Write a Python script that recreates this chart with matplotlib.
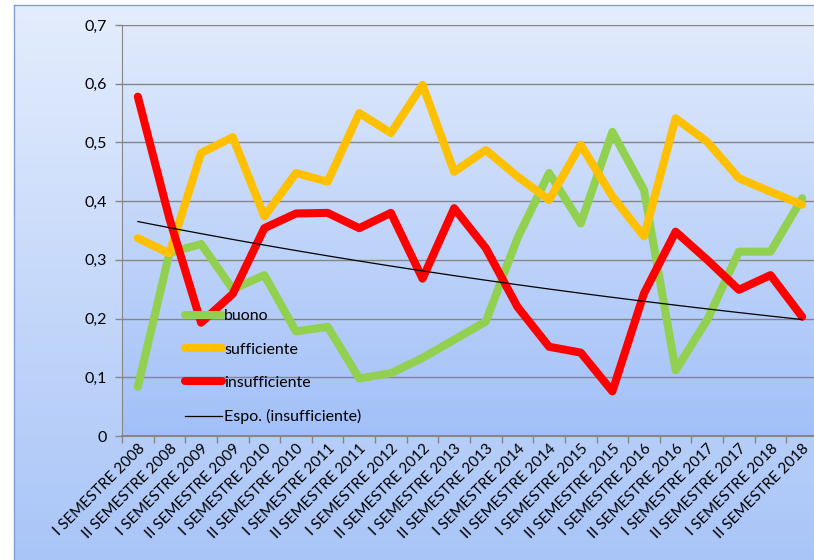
import numpy as np
from matplotlib import pyplot as plt
from matplotlib.colors import LinearSegmentedColormap

# semesters
categories = ['I SEMESTRE 2008', 'II SEMESTRE 2008', 'I SEMESTRE 2009', 'II SEMESTRE 2009',
              'I SEMESTRE 2010', 'II SEMESTRE 2010', 'I SEMESTRE 2011', 'II SEMESTRE 2011',
              'I SEMESTRE 2012', 'II SEMESTRE 2012', 'I SEMESTRE 2013', 'II SEMESTRE 2013',
              'I SEMESTRE 2014', 'II SEMESTRE 2014', 'I SEMESTRE 2015', 'II SEMESTRE 2015',
              'I SEMESTRE 2016', 'II SEMESTRE 2016', 'I SEMESTRE 2017', 'II SEMESTRE 2017',
              'I SEMESTRE 2018', 'II SEMESTRE 2018']

buono = [0.084, 0.312, 0.327, 0.250, 0.274, 0.178, 0.186, 0.098, 0.107, 0.133, 0.164,
         0.195, 0.337, 0.448, 0.362, 0.518, 0.419, 0.112, 0.198, 0.314, 0.314, 0.405]
sufficiente = [0.337, 0.311, 0.482, 0.509, 0.374, 0.448, 0.433, 0.550, 0.516, 0.598, 0.450,
               0.487, 0.442, 0.402, 0.496, 0.408, 0.340, 0.541, 0.501, 0.439, 0.416, 0.394]
insufficiente = [0.578, 0.370, 0.193, 0.242, 0.354, 0.379, 0.380, 0.354, 0.380, 0.268, 0.388,
                 0.320, 0.220, 0.152, 0.142, 0.076, 0.243, 0.348, 0.300, 0.249, 0.274, 0.203]

yticks = [0, 0.1, 0.2, 0.3, 0.4, 0.5, 0.6, 0.7]

plt.rcParams['font.family'] = ['Lato', 'DejaVu Sans']

W, H = 814, 560
fig = plt.figure(figsize=(W / 100, H / 100), dpi=100, facecolor='white')

# outer chart area with gradient
bg = fig.add_axes([14 / W, -0.1, 1, 1 - 5 / H + 0.1])
bg_cmap = LinearSegmentedColormap.from_list('bg', ['#a3c1f7', '#e4edfd'])
bg.imshow(np.linspace(0, 1, 256).reshape(-1, 1), cmap=bg_cmap, aspect='auto',
          origin='lower', extent=[0, 1, 0, 1])
bg.set_xticks([])
bg.set_yticks([])
for s in bg.spines.values():
    s.set_color('#7f9fd1')
    s.set_linewidth(1.0)

# plot area
ax = fig.add_axes([122 / W, (H - 436) / H, (818 - 122) / W, (436 - 25) / H])
ax.set_facecolor('none')
pa_cmap = LinearSegmentedColormap.from_list('pa', ['#a2c0f8', '#e0eafc'])
ax.imshow(np.linspace(0, 1, 256).reshape(-1, 1), cmap=pa_cmap, aspect='auto',
          origin='lower', extent=[0, 1, 0, 1], transform=ax.transAxes, zorder=0)

x = np.arange(len(categories))
lw = 5.8
ax.plot(x, buono, color='#92d050', lw=lw, solid_joinstyle='round',
        solid_capstyle='round', label='buono', zorder=3)
ax.plot(x, sufficiente, color='#ffc000', lw=lw, solid_joinstyle='round',
        solid_capstyle='round', label='sufficiente', zorder=3)
ax.plot(x, insufficiente, color='#ff0000', lw=lw, solid_joinstyle='round',
        solid_capstyle='round', label='insufficiente', zorder=3)

# exponential trendline on insufficiente
b, a = np.polyfit(x + 1, np.log(insufficiente), 1)
trend = np.exp(a + b * (x + 1))
ax.plot(x, trend, color='black', lw=0.9, label='Espo. (insufficiente)', zorder=4)

ax.set_xlim(-0.5, len(categories) - 0.5)
ax.set_ylim(0, 0.7)
ax.set_yticks(yticks)
ax.set_yticklabels(['0' if v == 0 else ('%.1f' % v).replace('.', ',') for v in yticks])
ax.yaxis.grid(True, color='#868686', lw=1.0, zorder=1)
ax.set_axisbelow(True)

ax.set_xticks(x)
ax.set_xticklabels(categories, rotation=45, ha='right', va='top',
                   rotation_mode='anchor', fontsize=10.9)
ax.set_xticks(np.arange(len(categories) + 1) - 0.5, minor=True)
ax.tick_params(axis='x', which='major', length=0, pad=4)
ax.tick_params(axis='x', which='minor', length=5, color='#868686', width=1)
ax.tick_params(axis='y', length=5, color='#868686', width=1, labelsize=11.5, pad=6)

for side in ['top', 'right']:
    ax.spines[side].set_visible(False)
ax.spines['left'].set_color('#868686')
ax.spines['bottom'].set_color('#868686')
ax.spines['bottom'].set_linewidth(1.5)

leg = ax.legend(loc='upper left', bbox_to_anchor=((185 - 122) / 696, (436 - 309) / 411),
                frameon=False, fontsize=11.5, handlelength=2.3, handletextpad=0.15,
                labelspacing=1.2, borderaxespad=0, borderpad=0)

plt.savefig('out.png', dpi=100)
